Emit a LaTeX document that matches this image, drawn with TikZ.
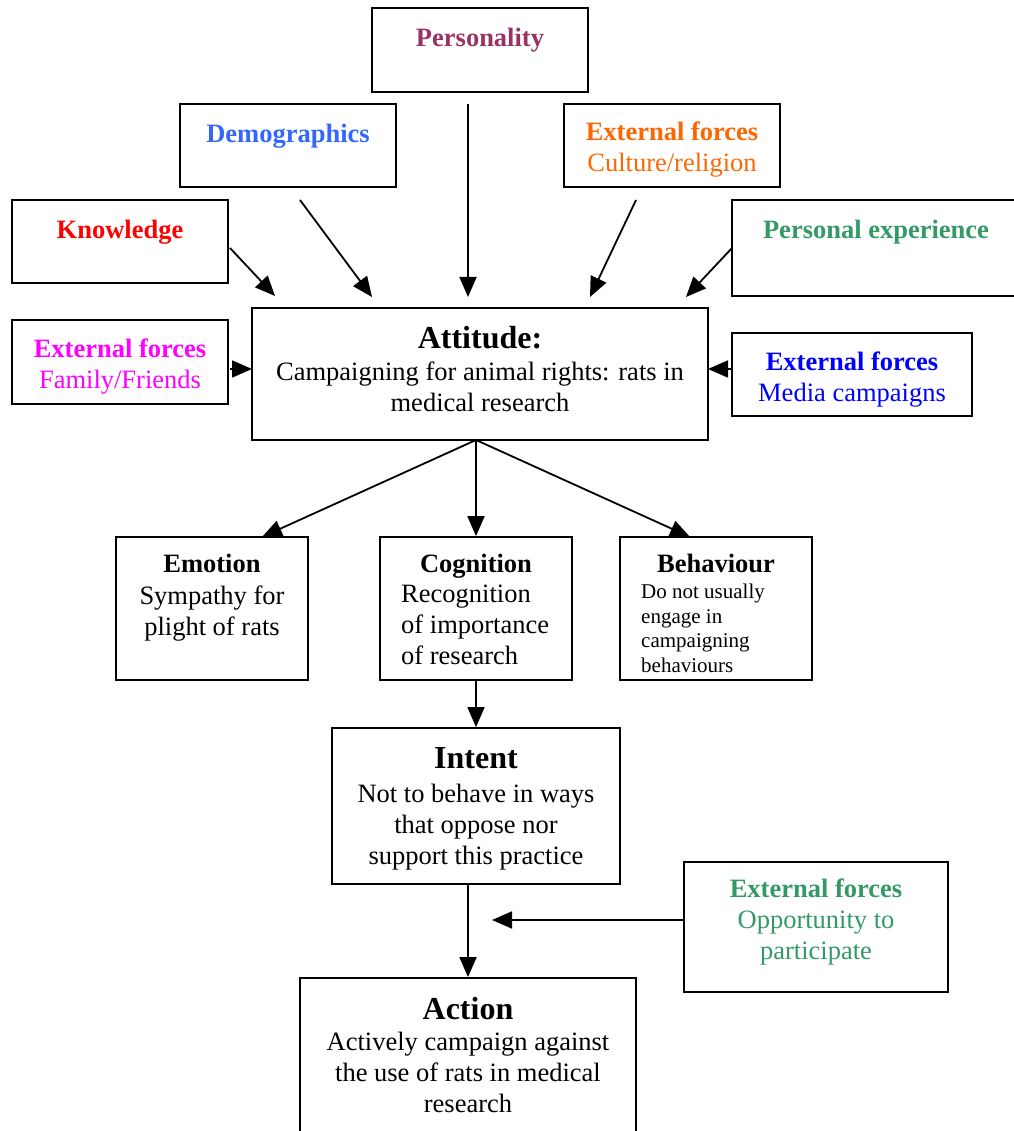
\documentclass[tikz,border=0pt]{standalone}
\usepackage{fontspec}
\setmainfont{Liberation Serif}
\usetikzlibrary{arrows.meta}

\definecolor{persc}{RGB}{153,51,102}
\definecolor{democ}{RGB}{51,102,255}
\definecolor{cultc}{RGB}{255,102,0}
\definecolor{greenc}{RGB}{51,153,102}
\definecolor{famc}{RGB}{255,0,255}
\definecolor{mediac}{RGB}{0,0,255}
\definecolor{knowc}{RGB}{255,0,0}

\tikzset{
	box/.style={draw, line width=1.8pt, inner sep=0pt},
	txt/.style={inner sep=0pt, anchor=north, align=center, font=\fontsize{26.5}{31}\selectfont},
	bt/.style={txt, font=\fontsize{26.5}{31}\selectfont\bfseries},
	hd/.style={txt, font=\fontsize{32}{36}\selectfont\bfseries},
	arr/.style={line width=1.8pt, -{Triangle[length=20pt,width=17pt]}}
}

\begin{document}
\begin{tikzpicture}[x=1pt, y=-1pt]
		\useasboundingbox (0, 0) rectangle (1013, 1131);

		% outer boxes
		\node[box, minimum width=216pt, minimum height=84pt] (pers) at (480, 50) {};
		\node[box, minimum width=216pt, minimum height=83pt] (demo) at (288, 145.5) {};
		\node[box, minimum width=216pt, minimum height=83pt] (cult) at (672, 145.5) {};
		\node[box, minimum width=216pt, minimum height=83pt] (know) at (120, 241.5) {};
		\node[box, minimum width=300pt, minimum height=96pt] (pexp) at (882, 248) {};
		\node[box, minimum width=216pt, minimum height=84pt] (fam) at (120, 362) {};
		\node[box, minimum width=240pt, minimum height=83pt] (media) at (852, 374.5) {};
		\node[box, minimum width=264pt, minimum height=130pt] (opp) at (816, 927) {};

		\node[bt, text=persc] (pers-t) at (480, 28) {Personality};
		\node[bt, text=democ] (demo-t) at (288, 124) {Demographics};
		\node[txt, text=cultc] (cult-t) at (672, 122) {\textbf{External forces}\\Culture/religion};
		\node[bt, text=knowc] (know-t) at (120, 220) {Knowledge};
		\node[bt, text=greenc] (pexp-t) at (876, 220) {Personal experience};
		\node[txt, text=famc] (fam-t) at (120, 339) {\textbf{External forces}\\Family/Friends};
		\node[txt, text=mediac] (media-t) at (852, 352) {\textbf{External forces}\\Media campaigns};
		\node[txt, text=greenc] (opp-t) at (816, 879) {\textbf{External forces}\\Opportunity to\\participate};

		% main chain
		\node[box, minimum width=456pt, minimum height=132pt] (att) at (480, 374) {};
		\node[hd] (att-h) at (480, 326) {Attitude:};
		\node[txt] (att-t) at (480, 362) {Campaigning for animal rights: rats in\\medical research};

		\node[box, minimum width=192pt, minimum height=143pt] (emo) at (212, 608.5) {};
		\node[box, minimum width=192pt, minimum height=143pt] (cog) at (476, 608.5) {};
		\node[box, minimum width=192pt, minimum height=143pt] (beh) at (716, 608.5) {};
		\node[bt] (emo-h) at (212, 554) {Emotion};
		\node[txt] (emo-t) at (212, 586) {Sympathy for\\plight of rats};
		\node[bt] (cog-h) at (476, 554) {Cognition};
		\node[txt, anchor=north west, align=left] (cog-t) at (401, 585) {Recognition\\of importance\\of research};
		\node[bt] (beh-h) at (716, 554) {Behaviour};
		\node[txt, anchor=north west, align=left, font=\fontsize{21}{24.5}\selectfont] (beh-t) at (641, 584) {Do not usually\\engage in\\campaigning\\behaviours};

		\node[box, minimum width=288pt, minimum height=156pt] (int) at (476, 806) {};
		\node[hd] (int-h) at (476, 747) {Intent};
		\node[txt] (int-t) at (476, 784) {Not to behave in ways\\that oppose nor\\support this practice};

		\node[box, minimum width=336pt, minimum height=162pt] (act) at (468, 1059) {};
		\node[hd] (act-h) at (468, 997) {Action};
		\node[txt] (act-t) at (468, 1032) {Actively campaign against\\the use of rats in medical\\research};

		% arrow ends
		\coordinate (know-o) at (230, 248);  \coordinate (att-k) at (275, 296);
		\coordinate (demo-o) at (300, 200);  \coordinate (att-d) at (372, 297);
		\coordinate (pers-o) at (468, 104);  \coordinate (att-p) at (468, 297);
		\coordinate (cult-o) at (636, 200);  \coordinate (att-c) at (590, 297);
		\coordinate (pexp-o) at (732, 248);  \coordinate (att-e) at (686, 297);
		\coordinate (fam-o) at (230, 369);   \coordinate (att-f) at (252, 369);
		\coordinate (media-o) at (732, 369); \coordinate (att-m) at (708, 369);
		\coordinate (att-o) at (476, 440);
		\coordinate (emo-i) at (262, 537);   \coordinate (beh-i) at (690, 537);
		\coordinate (opp-o) at (684, 920);   \coordinate (opp-i) at (492, 920);

		\foreach \a/\b in {know-o/att-k, demo-o/att-d, pers-o/att-p, cult-o/att-c, pexp-o/att-e,
				fam-o/att-f, media-o/att-m, att-o/emo-i, att-o/cog.north, att-o/beh-i, opp-o/opp-i} {
			\draw[arr] (\a) -- (\b);
		}
		\draw[arr] (cog.south) -- (int.north);
		\draw[arr] (int.south -| act.north) -- (act.north);
	\end{tikzpicture}
\end{document}
